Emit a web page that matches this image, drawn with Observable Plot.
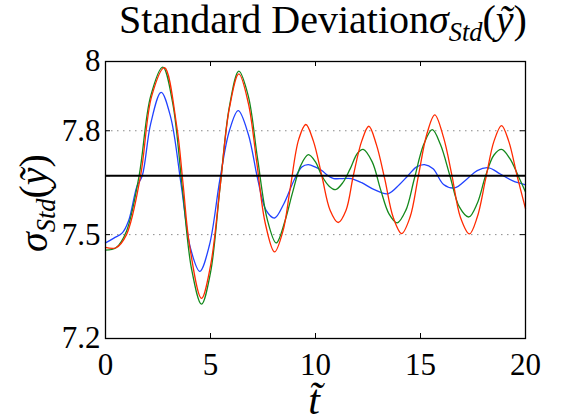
<!DOCTYPE html>
<html><head><meta charset="utf-8">
<script src="https://cdn.jsdelivr.net/npm/d3@7"></script>
<script src="https://cdn.jsdelivr.net/npm/@observablehq/plot@0.6"></script>
<style>body{margin:0;background:#fff} #chart svg text, #chart svg tspan{font-family:"Liberation Serif", serif}</style>
</head><body><div id="chart"></div>
<script>
// Data
const redT = [0,0.5,1.0,1.67,2.2,2.81,3.4,3.69,4.0,4.57,5.0,5.46,5.9,6.35,6.8,7.2,7.6,8.05,8.45,8.8,9.2,9.54,9.9,10.3,10.7,11.08,11.45,11.8,12.2,12.54,12.9,13.3,13.7,14.1,14.5,14.9,15.3,15.68,16.1,16.5,16.9,17.33,17.7,18.1,18.5,18.86,19.2,19.6,20];
const redV = [7.463,7.462,7.50,7.67,7.90,7.982,7.81,7.649,7.47,7.316,7.41,7.64,7.865,7.964,7.88,7.71,7.535,7.45,7.51,7.635,7.775,7.818,7.77,7.67,7.57,7.535,7.57,7.67,7.77,7.813,7.76,7.66,7.55,7.503,7.55,7.67,7.79,7.846,7.78,7.67,7.55,7.502,7.55,7.66,7.77,7.815,7.77,7.67,7.575];
const greenT = [0,0.5,1.0,1.6,2.15,2.73,3.2,3.65,4.1,4.57,5.0,5.46,5.9,6.35,6.8,7.24,7.7,8.13,8.55,8.9,9.3,9.66,10.0,10.3,10.65,10.95,11.3,11.65,12.0,12.27,12.7,13.1,13.5,13.89,14.3,14.7,15.15,15.56,15.95,16.4,16.85,17.3,17.7,18.1,18.5,18.86,19.25,19.65,20];
const greenV = [7.455,7.462,7.51,7.67,7.90,7.984,7.88,7.64,7.40,7.299,7.39,7.64,7.87,7.972,7.90,7.72,7.545,7.476,7.54,7.62,7.70,7.731,7.71,7.67,7.64,7.63,7.65,7.69,7.735,7.746,7.71,7.63,7.56,7.534,7.57,7.66,7.76,7.803,7.76,7.67,7.58,7.551,7.59,7.67,7.73,7.746,7.72,7.67,7.623];
const blueT = [0,0.4,0.8,1.1,1.5,1.75,2.15,2.65,3.1,3.6,4.05,4.49,4.95,5.45,5.9,6.32,6.8,7.25,7.65,8.05,8.5,9.0,9.35,9.65,10.0,10.3,10.6,10.87,11.3,11.7,12.2,12.8,13.44,14.0,14.4,14.8,15.19,15.6,16.1,16.62,17.2,17.7,18.25,18.8,19.4,20];
const blueV = [7.476,7.49,7.505,7.54,7.64,7.67,7.82,7.911,7.84,7.645,7.46,7.394,7.47,7.66,7.80,7.858,7.79,7.66,7.57,7.548,7.59,7.66,7.695,7.702,7.695,7.685,7.67,7.662,7.662,7.662,7.65,7.63,7.618,7.645,7.67,7.695,7.702,7.69,7.645,7.635,7.66,7.685,7.693,7.675,7.655,7.644];
const meanLevel = [7.67];
const xTicks = [0,5,10,15,20];
const yTicks = [7.2,7.5,7.8,8];
const gridY = [7.5,7.8];

const toRows = (T, V) => T.map((t, i) => ({t, v: V[i]}));
const W = 574, H = 419, mL = 105, mR = 49, mT = 61, mB = 81;
const pw = W - mL - mR, ph = H - mT - mB;
const FONT = "Liberation Serif";

const chart = Plot.plot({
  width: W, height: H,
  marginLeft: mL, marginRight: mR, marginTop: mT, marginBottom: mB,
  x: {domain: [0, 20]},
  y: {domain: [7.2, 8]},
  style: "font-family: 'Liberation Serif', serif; font-size: 31px; background: #fff; color: #000; overflow: visible;",
  marks: [
    Plot.ruleY(gridY, {stroke: "#8a8a8a", strokeWidth: 1, strokeDasharray: "1.5,4.5"}),
    Plot.line(toRows(blueT, blueV), {x: "t", y: "v", stroke: "#2142ff", strokeWidth: 1.3, curve: "catmull-rom"}),
    Plot.line(toRows(greenT, greenV), {x: "t", y: "v", stroke: "#14891c", strokeWidth: 1.3, curve: "catmull-rom"}),
    Plot.line(toRows(redT, redV), {x: "t", y: "v", stroke: "#ff2a00", strokeWidth: 1.3, curve: "catmull-rom"}),
    Plot.ruleY(meanLevel, {stroke: "#000", strokeWidth: 2}),
    // inward ticks
    Plot.tickX(xTicks, {x: d => d, stroke: "#000", insetTop: ph - 5}),
    Plot.tickX(xTicks, {x: d => d, stroke: "#000", insetBottom: ph - 5}),
    Plot.tickY(yTicks.concat(meanLevel), {y: d => d, stroke: "#000", insetRight: pw - 5}),
    Plot.tickY(yTicks, {y: d => d, stroke: "#000", insetLeft: pw - 5}),
    Plot.frame({stroke: "#000", strokeWidth: 1.3}),
    Plot.axisX(xTicks, {tickSize: 0, tickPadding: 14, fontSize: 31, tickFormat: d => String(d), label: null}),
    Plot.axisY(yTicks, {tickSize: 0, tickPadding: 5, fontSize: 31, tickFormat: d => String(d), label: null})
  ]
});
document.getElementById("chart").append(chart);
const svg = d3.select(chart);

function mathLabel(g) {
  // builds: σ_{Std}(ỹ)
  g.append("tspan").attr("font-style", "italic").text("σ");
  g.append("tspan").attr("font-style", "italic").attr("font-size", "0.66em").attr("dy", "0.3em").text("Std");
  g.append("tspan").attr("dy", "-0.2em").text("(");
  g.append("tspan").attr("font-style", "italic").text("ỹ");
  g.append("tspan").text(")");
}

// Title
const title = svg.append("text")
  .attr("x", 323).attr("y", 33).attr("text-anchor", "middle")
  .attr("font-family", FONT).attr("font-size", 40).attr("fill", "#000");
title.append("tspan").text("Standard Deviation");
title.append("tspan").attr("dx", 12).text("");
mathLabel(title);

// Y label
const ylab = svg.append("text")
  .attr("transform", "translate(47,203) rotate(-90)")
  .attr("text-anchor", "middle")
  .attr("font-family", FONT).attr("font-size", 40).attr("fill", "#000");
mathLabel(ylab);

// X label
svg.append("text")
  .attr("x", 314).attr("y", 414).attr("text-anchor", "middle")
  .attr("font-family", FONT).attr("font-size", 42).attr("font-style", "italic").attr("fill", "#000")
  .text("t\u0303");
</script>
</body></html>
